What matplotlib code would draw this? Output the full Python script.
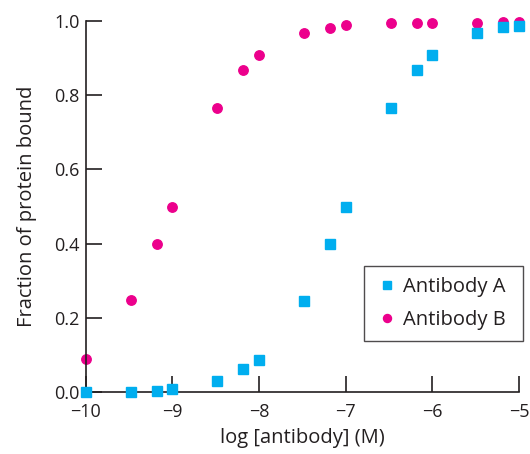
import matplotlib
matplotlib.use("Agg")
import matplotlib.pyplot as plt

plt.rcParams['font.family'] = ['Open Sans', 'DejaVu Sans']

log_conc = [-10, -9.48, -9.18, -9.0, -8.48, -8.18, -8.0, -7.48, -7.18, -7.0,
            -6.48, -6.18, -6.0, -5.48, -5.18, -5.0]
antibody_a = [0.0, 0.0, 0.004, 0.01, 0.03, 0.062, 0.088, 0.247, 0.40, 0.50,
              0.765, 0.869, 0.907, 0.967, 0.983, 0.987]
antibody_b = [0.09, 0.249, 0.40, 0.50, 0.765, 0.868, 0.907, 0.968, 0.982, 0.988,
              0.993, 0.995, 0.995, 0.995, 0.997, 0.997]
x_ticks = [-10, -9, -8, -7, -6, -5]
y_ticks = [0.0, 0.2, 0.4, 0.6, 0.8, 1.0]

cyan = '#00AEEF'
magenta = '#EC008C'
ink = '#231f20'

fig = plt.figure(figsize=(5.30, 4.54), dpi=100)
ax = fig.add_axes([0.162, 0.136, 0.817, 0.818])

ax.plot(log_conc, antibody_a, linestyle='none', marker='s', markersize=6.8,
        color=cyan, label='Antibody A', clip_on=False, zorder=3)
ax.plot(log_conc, antibody_b, linestyle='none', marker='o', markersize=6.8,
        color=magenta, label='Antibody B', clip_on=False, zorder=2)

ax.set_xlim(-10, -5)
ax.set_ylim(0, 1)
ax.set_xticks(x_ticks)
ax.set_yticks(y_ticks)
ax.set_xticklabels(['\u2212%d' % abs(t) for t in x_ticks])
ax.set_yticklabels(['%.1f' % t for t in y_ticks])

for s in ['top', 'right']:
    ax.spines[s].set_visible(False)
for s in ['left', 'bottom']:
    ax.spines[s].set_linewidth(1.2)
    ax.spines[s].set_color(ink)

ax.tick_params(direction='in', length=11.5, width=1.2, colors=ink,
               labelsize=13, labelcolor=ink)
ax.tick_params(axis='x', pad=8)
ax.tick_params(axis='y', pad=4.5)

ax.set_xlabel('log [antibody] (M)', fontsize=14.5, color=ink, labelpad=5)
ax.set_ylabel('Fraction of protein bound', fontsize=14.5, color=ink, labelpad=12)

leg = ax.legend(loc='upper left', bbox_to_anchor=(0.642, 0.136, 0.367, 0.205),
                mode='expand', fontsize=14.5, frameon=True, fancybox=False,
                edgecolor=ink, handlelength=1.2, handletextpad=0.2,
                markerscale=0.85, borderaxespad=0, labelspacing=0.65,
                borderpad=0.55)
leg.get_frame().set_linewidth(1.0)
for t in leg.get_texts():
    t.set_color(ink)

fig.savefig('out.png', dpi=100)
